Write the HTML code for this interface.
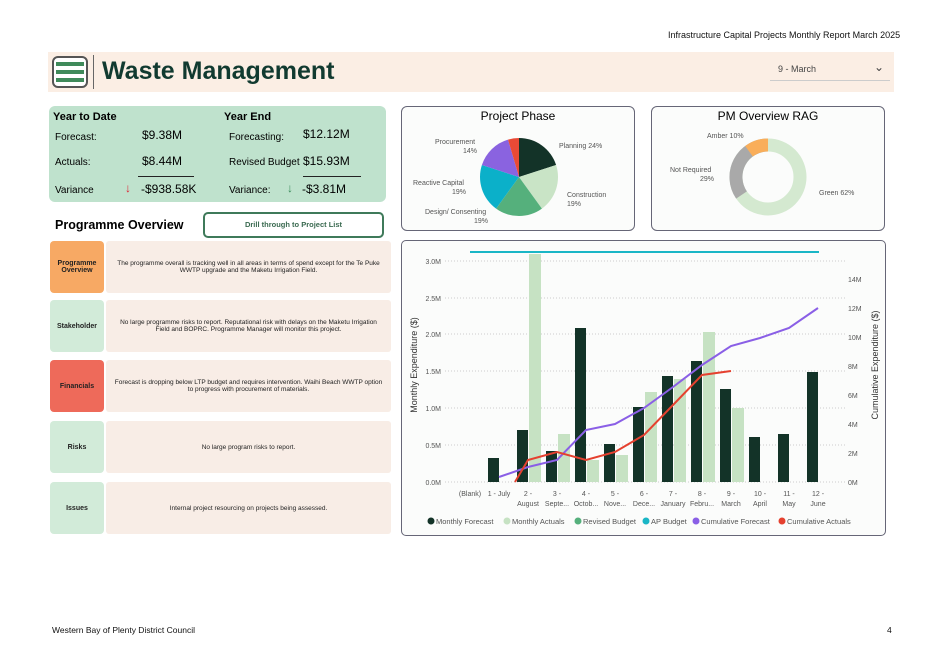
<!DOCTYPE html>
<html><head><meta charset="utf-8"><style>
body{margin:0;width:938px;height:664px;background:#fff;font-family:"Liberation Sans",sans-serif;position:relative;overflow:hidden}
.a{position:absolute}
.t{font-size:8px;color:#333}
.lbl{position:absolute;left:50px;width:54px;height:52px;border-radius:4px;font-size:7px;font-weight:bold;display:flex;align-items:center;justify-content:center;text-align:center;color:#222}
.txt{position:absolute;left:106px;width:285px;height:52px;background:#f8ede6;font-size:6.5px;display:flex;align-items:center;justify-content:center;text-align:center;color:#222;border-radius:3px;padding:0 8px;box-sizing:border-box}
</style></head><body>
<div class="a" style="left:668px;top:30px;font-size:9px;color:#111">Infrastructure Capital Projects Monthly Report March 2025</div>
<div class="a" style="left:48px;top:52px;width:846px;height:40px;background:#fbeee4"></div>
<div class="a" style="left:52px;top:56px;width:36px;height:32px;border:2px solid #555;border-radius:6px;box-sizing:border-box;background:#fff"></div>
<div class="a" style="left:56px;top:62px;width:28px;height:4px;background:#3f8a5a"></div>
<div class="a" style="left:56px;top:70px;width:28px;height:4px;background:#3f8a5a"></div>
<div class="a" style="left:56px;top:78px;width:28px;height:4px;background:#3f8a5a"></div>
<div class="a" style="left:93px;top:55px;width:1px;height:34px;background:#666"></div>
<div class="a" style="left:102px;top:57px;font-size:25px;font-weight:bold;color:#113a30">Waste Management</div>
<div class="a" style="left:770px;top:58px;width:120px;height:22px;border-bottom:1px solid #ccc;font-size:9px;color:#444"><span style="position:absolute;left:8px;top:6px">9 - March</span><span style="position:absolute;right:6px;top:2px;font-size:12px">&#8964;</span></div>

<div class="a" style="left:49px;top:106px;width:337px;height:96px;background:#bfe2cd;border-radius:6px"></div>
<div class="a" style="left:53px;top:111px;font-size:11px;font-weight:bold">Year to Date</div>
<div class="a" style="left:224px;top:111px;font-size:11px;font-weight:bold">Year End</div>
<div class="a" style="left:55px;top:132px;font-size:10px">Forecast:</div>
<div class="a" style="left:142px;top:128px;font-size:12px">$9.38M</div>
<div class="a" style="left:229px;top:132px;font-size:10px">Forecasting:</div>
<div class="a" style="left:303px;top:127px;font-size:12px">$12.12M</div>
<div class="a" style="left:55px;top:157px;font-size:10px">Actuals:</div>
<div class="a" style="left:142px;top:154px;font-size:12px">$8.44M</div>
<div class="a" style="left:229px;top:157px;font-size:10px">Revised Budget</div>
<div class="a" style="left:303px;top:154px;font-size:12px">$15.93M</div>
<div class="a" style="left:138px;top:176px;width:56px;height:1px;background:#222"></div>
<div class="a" style="left:303px;top:176px;width:58px;height:1px;background:#222"></div>
<div class="a" style="left:55px;top:185px;font-size:10px">Variance</div>
<div class="a" style="left:125px;top:181px;font-size:12px;color:#d23">&#8595;</div>
<div class="a" style="left:141px;top:182px;font-size:12px">-$938.58K</div>
<div class="a" style="left:229px;top:185px;font-size:10px">Variance:</div>
<div class="a" style="left:287px;top:181px;font-size:12px;color:#3a8a5a">&#8595;</div>
<div class="a" style="left:302px;top:182px;font-size:12px">-$3.81M</div>

<div class="a" style="left:55px;top:218px;font-size:12.5px;font-weight:bold">Programme Overview</div>
<div class="a" style="left:203px;top:212px;width:181px;height:26px;border:2px solid #3f7a5a;border-radius:5px;box-sizing:border-box;font-size:7.5px;font-weight:bold;color:#3a6a50;text-align:center;line-height:22px">Drill through to Project List</div>

<div class="lbl" style="top:241px;background:#f7a964">Programme<br>Overview</div>
<div class="txt" style="top:241px">The programme overall is tracking well in all areas in terms of spend except for the Te Puke WWTP upgrade and the Maketu Irrigation Field.</div>
<div class="lbl" style="top:300px;background:#d2ebd9">Stakeholder</div>
<div class="txt" style="top:300px">No large programme risks to report. Reputational risk with delays on the Maketu Irrigation Field and BOPRC. Programme Manager will monitor this project.</div>
<div class="lbl" style="top:360px;background:#ee6a5a">Financials</div>
<div class="txt" style="top:360px">Forecast is dropping below LTP budget and requires intervention. Waihi Beach WWTP option to progress with procurement of materials.</div>
<div class="lbl" style="top:421px;background:#d2ebd9">Risks</div>
<div class="txt" style="top:421px">No large program risks to report.</div>
<div class="lbl" style="top:482px;background:#d2ebd9">Issues</div>
<div class="txt" style="top:482px">Internal project resourcing on projects being assessed.</div>

<div class="a" style="left:401px;top:106px;width:234px;height:125px;border:1.5px solid #667;border-radius:6px;box-sizing:border-box;background:#fbfcfb"></div>
<div class="a" style="left:401px;top:109px;width:234px;text-align:center;font-size:12px">Project Phase</div>
<div class="a" style="left:651px;top:106px;width:234px;height:125px;border:1.5px solid #667;border-radius:6px;box-sizing:border-box;background:#fbfcfb"></div>
<div class="a" style="left:651px;top:109px;width:234px;text-align:center;font-size:12px">PM Overview RAG</div>
<svg class="a" style="left:0;top:0" width="938" height="664">
<g transform="translate(519,177)">
<path d="M0,0 L0,-39 A39,39 0 0 1 37.1,-12 Z" fill="#133328"/>
<path d="M0,0 L37.1,-12 A39,39 0 0 1 22.9,31.6 Z" fill="#c9e4c6"/>
<path d="M0,0 L22.9,31.6 A39,39 0 0 1 -22.9,31.6 Z" fill="#55b07c"/>
<path d="M0,0 L-22.9,31.6 A39,39 0 0 1 -37.1,-12 Z" fill="#0bb0c9"/>
<path d="M0,0 L-37.1,-12 A39,39 0 0 1 -11,-37.4 Z" fill="#8a63e0"/>
<path d="M0,0 L-11,-37.4 A39,39 0 0 1 0,-39 Z" fill="#e94a36"/>
</g>
<g font-size="7" fill="#555" font-family="Liberation Sans">
<text x="435" y="144">Procurement</text><text x="463" y="153">14%</text>
<text x="559" y="148">Planning 24%</text>
<text x="413" y="185">Reactive Capital</text><text x="452" y="194">19%</text>
<text x="567" y="197">Construction</text><text x="567" y="206">19%</text>
<text x="425" y="214">Design/ Consenting</text><text x="474" y="223">19%</text>
<text x="707" y="138">Amber 10%</text>
<text x="670" y="172">Not Required</text><text x="700" y="181">29%</text>
<text x="819" y="195">Green 62%</text>
</g>
<g transform="translate(768,177)" fill="none" stroke-width="13">
<circle r="32" stroke="#d4e9d0"/>
<path d="M0,-32 A32,32 0 0 0 -26.5,18" stroke="#a9a9a9"/>
<path d="M0,-32 A32,32 0 0 0 -19,-25.8" stroke="#f9ae5a"/>
</g>
</svg>

<div class="a" style="left:401px;top:240px;width:485px;height:296px;border:1.5px solid #667;border-radius:5px;box-sizing:border-box;background:#fbfcfb"></div>
<svg class="a" style="left:0;top:0" width="938" height="664" font-family="Liberation Sans">
<g stroke="#ccc" stroke-dasharray="1,2">
<line x1="445" x2="845" y1="482" y2="482"/><line x1="445" x2="845" y1="445" y2="445"/><line x1="445" x2="845" y1="408" y2="408"/><line x1="445" x2="845" y1="371" y2="371"/><line x1="445" x2="845" y1="334" y2="334"/><line x1="445" x2="845" y1="298" y2="298"/><line x1="445" x2="845" y1="261" y2="261"/>
</g>
<g font-size="7" fill="#555" text-anchor="end">
<text x="441" y="485">0.0M</text><text x="441" y="448">0.5M</text><text x="441" y="411">1.0M</text><text x="441" y="374">1.5M</text><text x="441" y="337">2.0M</text><text x="441" y="301">2.5M</text><text x="441" y="264">3.0M</text>
</g>
<g font-size="7" fill="#555">
<text x="848" y="485">0M</text><text x="848" y="456">2M</text><text x="848" y="427">4M</text><text x="848" y="398">6M</text><text x="848" y="369">8M</text><text x="848" y="340">10M</text><text x="848" y="311">12M</text><text x="848" y="282">14M</text>
</g>
<text transform="translate(417,365) rotate(-90)" font-size="9" fill="#333" text-anchor="middle">Monthly Expenditure ($)</text>
<text transform="translate(878,365) rotate(-90)" font-size="9" fill="#333" text-anchor="middle">Cumulative Expenditure ($)</text>
<g fill="#c6e2c3">
<rect x="529" y="254" width="12" height="228"/><rect x="558" y="434" width="12" height="48"/><rect x="587" y="460" width="12" height="22"/><rect x="616" y="455" width="12" height="27"/><rect x="645" y="392" width="12" height="90"/><rect x="674" y="379" width="12" height="103"/><rect x="703" y="332" width="12" height="150"/><rect x="732" y="408" width="12" height="74"/>
</g>
<g fill="#133328">
<rect x="488" y="458" width="11" height="24"/><rect x="517" y="430" width="11" height="52"/><rect x="546" y="451" width="11" height="31"/><rect x="575" y="328" width="11" height="154"/><rect x="604" y="444" width="11" height="38"/><rect x="633" y="407" width="11" height="75"/><rect x="662" y="376" width="11" height="106"/><rect x="691" y="361" width="11" height="121"/><rect x="720" y="389" width="11" height="93"/><rect x="749" y="437" width="11" height="45"/><rect x="778" y="434" width="11" height="48"/><rect x="807" y="372" width="11" height="110"/>
</g>
<line x1="470" x2="819" y1="252" y2="252" stroke="#1ab6c6" stroke-width="2"/>
<polyline fill="none" stroke="#8a5fe6" stroke-width="2" points="499,477 528,467 557,460 586,430 615,424 644,408 673,387 702,365 731,346 760,338 789,328 818,308"/>
<polyline fill="none" stroke="#e5412f" stroke-width="2" points="515,482 528,460 557,452 586,460 615,452 644,435 673,405 702,375 731,371"/>
<g font-size="7" fill="#555" text-anchor="middle">
<text x="470" y="496">(Blank)</text><text x="499" y="496">1 - July</text>
<text x="528" y="496">2 -</text><text x="528" y="506">August</text>
<text x="557" y="496">3 -</text><text x="557" y="506">Septe...</text>
<text x="586" y="496">4 -</text><text x="586" y="506">Octob...</text>
<text x="615" y="496">5 -</text><text x="615" y="506">Nove...</text>
<text x="644" y="496">6 -</text><text x="644" y="506">Dece...</text>
<text x="673" y="496">7 -</text><text x="673" y="506">January</text>
<text x="702" y="496">8 -</text><text x="702" y="506">Febru...</text>
<text x="731" y="496">9 -</text><text x="731" y="506">March</text>
<text x="760" y="496">10 -</text><text x="760" y="506">April</text>
<text x="789" y="496">11 -</text><text x="789" y="506">May</text>
<text x="818" y="496">12 -</text><text x="818" y="506">June</text>
</g>
<g font-size="7.5" fill="#555">
<circle cx="431" cy="521" r="3.5" fill="#133328"/><text x="436" y="524">Monthly Forecast</text>
<circle cx="507" cy="521" r="3.5" fill="#c6e2c3"/><text x="512" y="524">Monthly Actuals</text>
<circle cx="578" cy="521" r="3.5" fill="#55b07c"/><text x="583" y="524">Revised Budget</text>
<circle cx="646" cy="521" r="3.5" fill="#1ab6c6"/><text x="651" y="524">AP Budget</text>
<circle cx="696" cy="521" r="3.5" fill="#8a5fe6"/><text x="701" y="524">Cumulative Forecast</text>
<circle cx="782" cy="521" r="3.5" fill="#e5412f"/><text x="787" y="524">Cumulative Actuals</text>
</g>
</svg>

<div class="a" style="left:52px;top:625px;font-size:8.5px;color:#111">Western Bay of Plenty District Council</div>
<div class="a" style="left:887px;top:625px;font-size:8.5px;color:#111">4</div>
</body></html>
